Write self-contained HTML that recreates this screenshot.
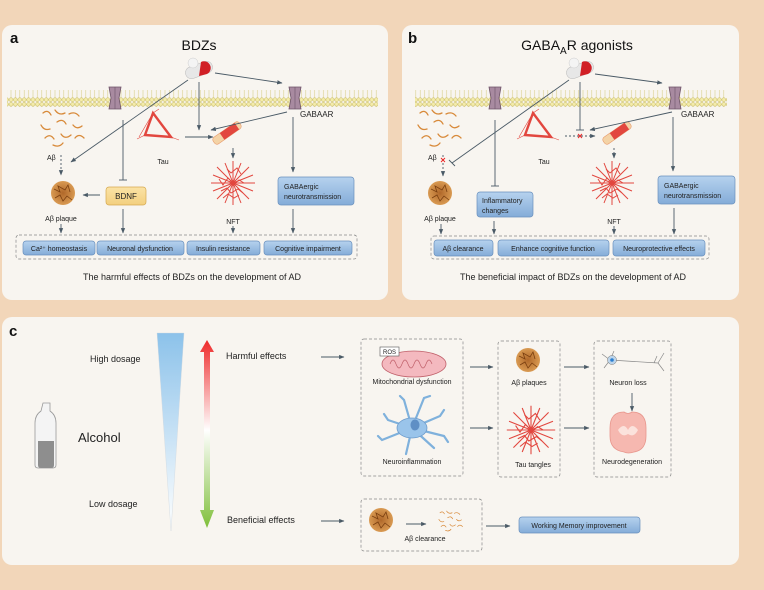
<!DOCTYPE html>
<html><head><meta charset="utf-8">
<style>
html,body{margin:0;padding:0;background:#f2d6b9;}
svg{display:block;font-family:"Liberation Sans",Arial,sans-serif;}
</style></head><body>
<svg width="764" height="590" viewBox="0 0 764 590" xmlns="http://www.w3.org/2000/svg">
<defs>
 <marker id="ar" viewBox="0 0 10 10" refX="9" refY="5" markerWidth="6" markerHeight="6" orient="auto"><path d="M0,1 L10,5 L0,9 z" fill="#4a5a66"/></marker>
 <pattern id="mem" x="0" y="0" width="4.4" height="17" patternUnits="userSpaceOnUse">
  <line x1="2.2" y1="3" x2="2.2" y2="14" stroke="#d9cf8a" stroke-width="0.6"/>
  <circle cx="2.2" cy="2.3" r="1.9" fill="#f4ecaa" stroke="#c6b860" stroke-width="0.5"/>
  <circle cx="2.2" cy="14.7" r="1.9" fill="#f4ecaa" stroke="#c6b860" stroke-width="0.5"/>
 </pattern>
 <linearGradient id="bx" x1="0" y1="0" x2="0" y2="1"><stop offset="0" stop-color="#b6d2ee"/><stop offset="1" stop-color="#84acd8"/></linearGradient>
 <linearGradient id="yb" x1="0" y1="0" x2="0" y2="1"><stop offset="0" stop-color="#fbe3a6"/><stop offset="1" stop-color="#f3cf7e"/></linearGradient>
 <linearGradient id="tri" x1="0" y1="0" x2="0" y2="1"><stop offset="0" stop-color="#8cc2ea"/><stop offset="1" stop-color="#ffffff"/></linearGradient>
 <linearGradient id="rg" x1="0" y1="0" x2="0" y2="1"><stop offset="0" stop-color="#ee2a2a"/><stop offset="0.48" stop-color="#ffffff"/><stop offset="1" stop-color="#7fbf3a"/></linearGradient>
 <radialGradient id="pl"><stop offset="0" stop-color="#b0682a"/><stop offset="1" stop-color="#d99a52"/></radialGradient>
 <g id="pill"><rect x="-14" y="-6" width="28" height="12" rx="6" fill="#e7e7e7" stroke="#bbb" stroke-width="0.5" transform="rotate(-20)"/><path d="M2,-8 a6,6 0 0 1 6,12 L0,6 z" fill="#d11f25"/><circle cx="-6" cy="-7" r="5" fill="#f4f4f4" stroke="#ccc" stroke-width="0.5"/></g>
 <g id="chan"><path d="M-6,-11 h12 l-2,11 l2,11 h-12 l2,-11 z" fill="#a88aa0" stroke="#6e5468" stroke-width="0.8"/><line x1="0" y1="-11" x2="0" y2="11" stroke="#6e5468" stroke-width="0.6"/></g>
 <g id="worms" fill="none" stroke="#d88a3a" stroke-width="1.3" stroke-linecap="round">
  <path d="M-20,-15 q5,-4 8,2"/><path d="M-8,-18 q4,6 10,3"/><path d="M6,-14 q6,-3 10,2"/><path d="M-22,-3 q3,6 9,4"/><path d="M-6,-6 q6,-4 9,2"/><path d="M10,-3 q4,5 9,1"/><path d="M-18,10 q5,-5 9,1"/><path d="M-2,6 q4,6 10,1"/><path d="M12,10 q4,-5 9,0"/><path d="M-10,17 q6,3 10,-2"/>
 </g>
 <g id="plaque"><circle r="12" fill="url(#pl)"/><path d="M-9,-4 l6,3 l-2,-6 l7,4 l3,-5 l2,7 M-8,5 l5,-3 l3,6 l4,-5 l5,4" stroke="#7a3f10" stroke-width="0.8" fill="none"/></g>
 <g id="nft" stroke="#e2473f" stroke-width="1" fill="none">
  <path d="M-22,0 L22,0 M0,-22 L0,22 M-16,-16 L16,16 M-16,16 L16,-16 M-20,-8 L20,8 M-8,-20 L8,20 M-20,8 L20,-8 M-8,20 L8,-20"/>
  <path d="M-14,-4 l4,6 l5,-7 l6,6 l5,-4 l5,3 M-12,8 l6,-3 l4,5 l7,-4 l5,4 M-6,-14 l4,4 l6,-5 l4,6 M-10,15 l5,-4 l6,4 l5,-3" />
 </g>
 <g id="tau" stroke="#e2473f" fill="none"><path d="M-4,-14 L-12,8 L14,10 Z" stroke-width="2.4"/><path d="M-18,10 L-4,-14 M-4,-14 l6,-4 M-12,8 l-8,4 M14,10 l8,3 M-4,-14 L10,6" stroke-width="0.6"/></g>
 <g id="fib"><g transform="rotate(-35)"><rect x="-16" y="-4" width="32" height="8" rx="3" fill="#f4d3a6" stroke="#e89a6a" stroke-width="0.6"/><rect x="-6" y="-4" width="18" height="8" fill="#e2473f"/></g></g>
</defs>

<!-- Panel a -->
<rect x="2" y="25" width="386" height="275" rx="10" fill="#f8f5f0"/>
<text x="10" y="43" font-size="15" font-weight="bold" fill="#111">a</text>
<text x="199" y="50" font-size="14" text-anchor="middle" fill="#111">BDZs</text>
<rect x="7" y="90" width="371" height="17" fill="url(#mem)"/>
<use href="#chan" x="115" y="98"/><use href="#chan" x="295" y="98"/>
<use href="#pill" x="199" y="70"/>
<text x="300" y="117" font-size="8" fill="#222">GABAAR</text>
<use href="#worms" x="63" y="128"/>
<text x="47" y="160" font-size="7" fill="#222">Aβ</text>
<use href="#plaque" x="63" y="193"/>
<text x="61" y="221" font-size="7" text-anchor="middle" fill="#222">Aβ plaque</text>
<rect x="106" y="187" width="40" height="18" rx="3" fill="url(#yb)" stroke="#d6a94f" stroke-width="0.7"/>
<text x="126" y="199" font-size="8" text-anchor="middle" fill="#222">BDNF</text>
<use href="#tau" x="157" y="127"/>
<text x="163" y="164" font-size="7" text-anchor="middle" fill="#222">Tau</text>
<use href="#fib" x="227" y="133"/>
<use href="#nft" x="233" y="183"/>
<text x="233" y="224" font-size="7" text-anchor="middle" fill="#222">NFT</text>
<rect x="278" y="177" width="76" height="28" rx="3" fill="url(#bx)" stroke="#6a90bd" stroke-width="0.7"/>
<text x="284" y="189" font-size="7" fill="#222">GABAergic</text>
<text x="284" y="199" font-size="7" fill="#222">neurotransmission</text>
<g stroke="#4a5a66" stroke-width="0.9" fill="none">
 <line x1="188" y1="80" x2="71" y2="162" marker-end="url(#ar)"/>
 <line x1="199" y1="82" x2="199" y2="130" marker-end="url(#ar)"/>
 <line x1="215" y1="73" x2="282" y2="83" marker-end="url(#ar)"/>
 <line x1="287" y1="112" x2="211" y2="130" marker-end="url(#ar)"/>
 <line x1="185" y1="137" x2="213" y2="137" marker-end="url(#ar)"/>
 <line x1="233" y1="148" x2="233" y2="158" marker-end="url(#ar)"/>
 <line x1="293" y1="117" x2="293" y2="172" marker-end="url(#ar)"/>
 <line x1="123" y1="120" x2="123" y2="180"/><line x1="119" y1="180" x2="127" y2="180"/>
 <line x1="100" y1="195" x2="83" y2="195" marker-end="url(#ar)"/>
 <line x1="61" y1="155" x2="61" y2="175" stroke-dasharray="2,2" marker-end="url(#ar)"/>
 <line x1="61" y1="224" x2="61" y2="233" marker-end="url(#ar)"/>
 <line x1="123" y1="209" x2="123" y2="233" marker-end="url(#ar)"/>
 <line x1="233" y1="226" x2="233" y2="233" marker-end="url(#ar)"/>
 <line x1="293" y1="209" x2="293" y2="233" marker-end="url(#ar)"/>
</g>
<rect x="16" y="235" width="341" height="24" rx="3" fill="none" stroke="#888" stroke-width="0.7" stroke-dasharray="3,2"/>
<g fill="url(#bx)" stroke="#6a90bd" stroke-width="0.7">
 <rect x="23" y="241" width="72" height="14" rx="3"/><rect x="97" y="241" width="87" height="14" rx="3"/><rect x="187" y="241" width="73" height="14" rx="3"/><rect x="264" y="241" width="88" height="14" rx="3"/>
</g>
<g font-size="7" text-anchor="middle" fill="#222">
 <text x="59" y="251">Ca²⁺ homeostasis</text><text x="140" y="251">Neuronal dysfunction</text><text x="223" y="251">Insulin resistance</text><text x="308" y="251">Cognitive impairment</text>
</g>
<text x="192" y="280" font-size="9" text-anchor="middle" fill="#222">The harmful effects of BDZs on the development of AD</text>

<!-- Panel b -->
<rect x="402" y="25" width="337" height="275" rx="10" fill="#f8f5f0"/>
<text x="408" y="43" font-size="15" font-weight="bold" fill="#111">b</text>
<text x="577" y="50" font-size="14" text-anchor="middle" fill="#111">GABA<tspan font-size="10" dy="4">A</tspan><tspan dy="-4">R agonists</tspan></text>
<rect x="415" y="90" width="312" height="17" fill="url(#mem)"/>
<use href="#chan" x="495" y="98"/><use href="#chan" x="675" y="98"/>
<use href="#pill" x="580" y="70"/>
<text x="681" y="117" font-size="8" fill="#222">GABAAR</text>
<use href="#worms" x="440" y="128"/>
<text x="428" y="160" font-size="7" fill="#222">Aβ</text>
<use href="#plaque" x="440" y="193"/>
<text x="440" y="221" font-size="7" text-anchor="middle" fill="#222">Aβ plaque</text>
<rect x="477" y="192" width="56" height="25" rx="3" fill="url(#bx)" stroke="#6a90bd" stroke-width="0.7"/>
<text x="482" y="203" font-size="7" fill="#222">Inflammatory</text>
<text x="482" y="213" font-size="7" fill="#222">changes</text>
<use href="#tau" x="537" y="127"/>
<text x="544" y="164" font-size="7" text-anchor="middle" fill="#222">Tau</text>
<use href="#fib" x="617" y="133"/>
<use href="#nft" x="612" y="183"/>
<text x="614" y="224" font-size="7" text-anchor="middle" fill="#222">NFT</text>
<rect x="658" y="176" width="77" height="28" rx="3" fill="url(#bx)" stroke="#6a90bd" stroke-width="0.7"/>
<text x="664" y="188" font-size="7" fill="#222">GABAergic</text>
<text x="664" y="198" font-size="7" fill="#222">neurotransmission</text>
<g stroke="#4a5a66" stroke-width="0.9" fill="none">
 <line x1="569" y1="80" x2="452" y2="163"/><line x1="449" y1="160" x2="455" y2="166"/>
 <line x1="580" y1="82" x2="580" y2="130"/><line x1="576" y1="130" x2="584" y2="130"/>
 <line x1="595" y1="74" x2="662" y2="83" marker-end="url(#ar)"/>
 <line x1="672" y1="112" x2="590" y2="130" marker-end="url(#ar)"/>
 <line x1="565" y1="136" x2="595" y2="136" stroke-dasharray="2,2" marker-end="url(#ar)"/>
 <line x1="614" y1="148" x2="614" y2="158" stroke-dasharray="2,2" marker-end="url(#ar)"/>
 <line x1="673" y1="117" x2="673" y2="171" marker-end="url(#ar)"/>
 <line x1="495" y1="120" x2="495" y2="186"/><line x1="491" y1="186" x2="499" y2="186"/>
 <line x1="443" y1="155" x2="443" y2="176" stroke-dasharray="2,2" marker-end="url(#ar)"/>
 <line x1="441" y1="224" x2="441" y2="234" marker-end="url(#ar)"/>
 <line x1="494" y1="221" x2="494" y2="234" marker-end="url(#ar)"/>
 <line x1="614" y1="226" x2="614" y2="234" marker-end="url(#ar)"/>
 <line x1="674" y1="208" x2="674" y2="234" marker-end="url(#ar)"/>
</g>
<g stroke="#e22" stroke-width="0.9"><path d="M441,158 l4,4 M445,158 l-4,4 M578,134 l4,4 M582,134 l-4,4"/></g>
<rect x="431" y="236" width="278" height="23" rx="3" fill="none" stroke="#888" stroke-width="0.7" stroke-dasharray="3,2"/>
<g fill="url(#bx)" stroke="#6a90bd" stroke-width="0.7">
 <rect x="434" y="240" width="59" height="16" rx="3"/><rect x="498" y="240" width="111" height="16" rx="3"/><rect x="613" y="240" width="92" height="16" rx="3"/>
</g>
<g font-size="7" text-anchor="middle" fill="#222">
 <text x="463" y="251">Aβ clearance</text><text x="553" y="251">Enhance cognitive function</text><text x="659" y="251">Neuroprotective effects</text>
</g>
<text x="573" y="280" font-size="9" text-anchor="middle" fill="#222">The beneficial impact of BDZs on the development of AD</text>

<!-- Panel c -->
<rect x="2" y="317" width="737" height="248" rx="10" fill="#f8f5f0"/>
<text x="9" y="336" font-size="15" font-weight="bold" fill="#111">c</text>
<text x="90" y="362" font-size="9" fill="#222">High dosage</text>
<text x="89" y="507" font-size="9" fill="#222">Low dosage</text>
<path d="M157,333 L184,333 L171,531 Z" fill="url(#tri)" stroke="#cfd8e0" stroke-width="0.4"/>
<path d="M207,340 L214,352 L210,352 L210,510 L214,510 L207,528 L200,510 L204,510 L204,352 L200,352 Z" fill="url(#rg)"/>
<path d="M43,403 h7 v8 q6,4 6,12 v42 q0,3 -3,3 h-15 q-3,0 -3,-3 v-42 q0,-8 6,-12 z" fill="#f4f4f4" stroke="#999" stroke-width="0.8"/>
<path d="M38,441 h16 v24 q0,3 -3,3 h-10 q-3,0 -3,-3 z" fill="#8e8e8e"/>
<text x="78" y="442" font-size="13" fill="#222">Alcohol</text>
<text x="226" y="359" font-size="9" fill="#222">Harmful effects</text>
<text x="227" y="523" font-size="9" fill="#222">Beneficial effects</text>
<g stroke="#4a5a66" stroke-width="0.9" fill="none">
 <line x1="321" y1="357" x2="344" y2="357" marker-end="url(#ar)"/>
 <line x1="321" y1="521" x2="344" y2="521" marker-end="url(#ar)"/>
 <line x1="470" y1="367" x2="493" y2="367" marker-end="url(#ar)"/>
 <line x1="470" y1="428" x2="493" y2="428" marker-end="url(#ar)"/>
 <line x1="564" y1="367" x2="589" y2="367" marker-end="url(#ar)"/>
 <line x1="564" y1="428" x2="589" y2="428" marker-end="url(#ar)"/>
 <line x1="632" y1="393" x2="632" y2="411" marker-end="url(#ar)"/>
 <line x1="406" y1="524" x2="426" y2="524" marker-end="url(#ar)"/>
 <line x1="486" y1="526" x2="510" y2="526" marker-end="url(#ar)"/>
</g>
<g fill="none" stroke="#888" stroke-width="0.7" stroke-dasharray="3,2">
 <rect x="361" y="339" width="102" height="137" rx="3"/>
 <rect x="498" y="341" width="62" height="136" rx="3"/>
 <rect x="594" y="341" width="77" height="136" rx="3"/>
 <rect x="361" y="499" width="121" height="52" rx="3"/>
</g>
<ellipse cx="414" cy="364" rx="32" ry="13" fill="#f4b9bf" stroke="#c0606a" stroke-width="0.8"/>
<path d="M390,364 q3,-8 6,0 q3,8 6,0 q3,-8 6,0 q3,8 6,0 q3,-8 6,0 q3,8 6,0 q3,-8 6,0" fill="none" stroke="#c0606a" stroke-width="0.7"/>
<rect x="380" y="347" width="19" height="9" fill="#fff" stroke="#555" stroke-width="0.6"/>
<text x="389.5" y="354" font-size="6" text-anchor="middle" fill="#222">ROS</text>
<text x="412" y="384" font-size="7" text-anchor="middle" fill="#222">Mitochondrial dysfunction</text>
<g stroke="#7fb1dc" stroke-width="2.2" fill="none" stroke-linecap="round"><path d="M412,428 l-24,-8 l-4,-6 M412,428 l-8,-28 l-4,-4 M412,428 l12,-30 l6,-2 M412,428 l28,-12 l4,-6 M412,428 l32,8 l4,6 M412,428 l22,20 M412,428 l-6,26 M412,428 l-30,12 l-4,-4"/></g>
<ellipse cx="412" cy="428" rx="15" ry="10" fill="#9ac4ea" stroke="#6d9ccc" stroke-width="0.8"/>
<ellipse cx="415" cy="425" rx="4.5" ry="5.5" fill="#5f8fc5"/>
<text x="412" y="464" font-size="7" text-anchor="middle" fill="#222">Neuroinflammation</text>
<use href="#plaque" x="528" y="360"/>
<text x="529" y="385" font-size="7" text-anchor="middle" fill="#222">Aβ plaques</text>
<g transform="translate(531 430) scale(1.1)"><use href="#nft"/></g>
<text x="533" y="467" font-size="7" text-anchor="middle" fill="#222">Tau tangles</text>
<g stroke="#888" stroke-width="0.7" fill="none"><path d="M610,360 l-8,-6 M610,360 l-6,8 M610,360 l4,-9 M610,360 l48,3 M658,363 l6,-10 M658,363 l6,8 M654,363 l3,-7"/></g>
<circle cx="612" cy="360" r="4.5" fill="#bcd4ea" stroke="#777" stroke-width="0.5"/><circle cx="612" cy="360" r="1.8" fill="#2c7fd0"/>
<text x="628" y="385" font-size="7" text-anchor="middle" fill="#222">Neuron loss</text>
<path d="M610,428 q0,-16 14,-16 q4,3 8,0 q14,0 14,16 v8 q0,14 -12,16 q-6,2 -10,0 q-14,-2 -14,-16 z" fill="#f6b8b0" stroke="#e8968c" stroke-width="0.8"/>
<path d="M618,430 q6,-8 10,0 q4,-8 10,0 q-4,8 -10,4 q-6,4 -10,-4 z" fill="#fbe2dc"/>
<text x="632" y="464" font-size="7" text-anchor="middle" fill="#222">Neurodegeneration</text>
<use href="#plaque" x="381" y="520"/>
<g transform="translate(451 521) scale(0.55)"><use href="#worms"/></g>
<text x="425" y="541" font-size="7" text-anchor="middle" fill="#222">Aβ clearance</text>
<rect x="519" y="517" width="121" height="16" rx="3" fill="url(#bx)" stroke="#6a90bd" stroke-width="0.7"/>
<text x="579" y="528" font-size="7" text-anchor="middle" fill="#222">Working Memory improvement</text>
</svg>
</body></html>
